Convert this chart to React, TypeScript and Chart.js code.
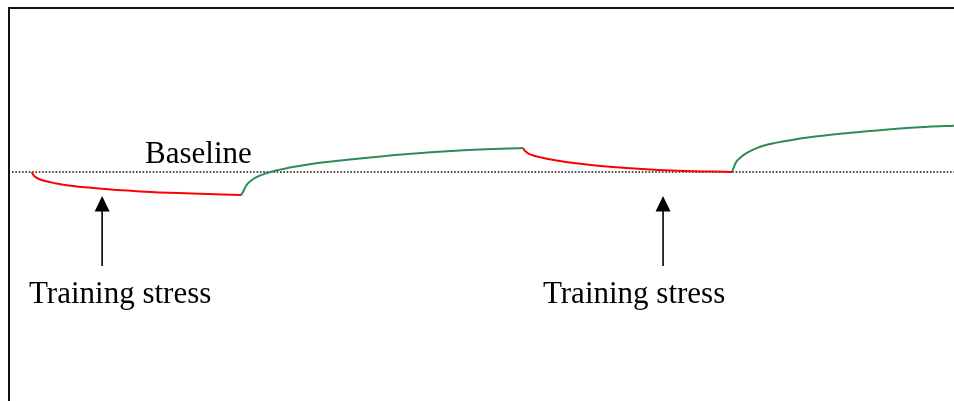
import React, { useEffect, useRef } from "react";
import { Chart, registerables } from "chart.js";

Chart.register(...registerables);

// Time axis in days, level relative to baseline (0)
const red1Days = [0, 0.06, 0.16, 0.35, 0.63, 1.11, 1.59, 2.54, 3.5, 5.4, 7.31, 10];
const red1Level = [0, -0.25, -0.47, -0.7, -0.9, -1.12, -1.3, -1.53, -1.7, -1.97, -2.13, -2.3];

const green1Days = [10, 10.13, 10.22, 10.46, 10.7, 11.18, 11.66, 12.61, 13.57, 15.42, 17.81, 20.2, 23.44];
const green1Level = [-2.3, -1.8, -1.4, -0.87, -0.53, -0.13, 0.15, 0.55, 0.87, 1.3, 1.78, 2.13, 2.4];

const red2Days = [23.44, 23.52, 23.68, 23.87, 24.16, 24.64, 25.11, 26.07, 27.02, 28.93, 30.84, 33.41];
const red2Level = [2.4, 2.13, 1.87, 1.7, 1.53, 1.3, 1.13, 0.85, 0.63, 0.33, 0.13, 0];

const green2Days = [33.41, 33.51, 33.6, 33.84, 34.08, 34.56, 35.03, 35.99, 36.94, 38.95, 40.85, 42.76, 44];
const green2Level = [0, 0.53, 0.97, 1.5, 1.87, 2.37, 2.7, 3.1, 3.43, 3.9, 4.25, 4.53, 4.63];

const baselineDays = [-0.94, 44];
const baselineLevel = [0, 0];

const stressDays = [3.36, 30.12];
const arrowTipLevel = -2.4;
const arrowTailLevel = -9.4;

const labelTexts = ["Baseline", "Training stress", "Training stress"];
const labelDays = [5.41, -0.13, 24.39];
const labelLevels = [0.9, -13.1, -13.1];

const X_MIN = -1.083;
const X_MAX = 44;
const Y_MIN = -22.9;
const Y_MAX = 16.4;

const RED = "#ff0000";
const GREEN = "#2e8b57";

const zip = (xs: number[], ys: number[]) => xs.map((x, i) => ({ x, y: ys[i] }));

const overlayPlugin = {
  id: "overlay",
  afterDatasetsDraw(chart: any) {
    const { ctx, chartArea, scales } = chart;
    const xs = scales.x;
    const ys = scales.y;
    ctx.save();
    // frame (left and top)
    ctx.strokeStyle = "#111";
    ctx.lineWidth = 2;
    ctx.beginPath();
    ctx.moveTo(chartArea.left, chartArea.bottom + 2);
    ctx.lineTo(chartArea.left, chartArea.top);
    ctx.lineTo(chartArea.right + 2, chartArea.top);
    ctx.stroke();

    // arrows
    ctx.strokeStyle = "#000";
    ctx.fillStyle = "#000";
    ctx.lineWidth = 1.6;
    const headLen = 15.5;
    const headHalf = 7.5;
    stressDays.forEach((d) => {
      const x = xs.getPixelForValue(d);
      const tip = ys.getPixelForValue(arrowTipLevel);
      const tail = ys.getPixelForValue(arrowTailLevel);
      ctx.beginPath();
      ctx.moveTo(x, tail);
      ctx.lineTo(x, tip + headLen - 1);
      ctx.stroke();
      ctx.beginPath();
      ctx.moveTo(x, tip);
      ctx.lineTo(x - headHalf, tip + headLen);
      ctx.lineTo(x + headHalf, tip + headLen);
      ctx.closePath();
      ctx.fill();
    });

    // labels
    ctx.font = '31px "Liberation Serif", "Times New Roman", serif';
    ctx.textAlign = "left";
    ctx.textBaseline = "alphabetic";
    ctx.fillStyle = "#000";
    labelTexts.forEach((t, i) => {
      ctx.fillText(t, xs.getPixelForValue(labelDays[i]), ys.getPixelForValue(labelLevels[i]));
    });
    ctx.restore();
  },
};

export default function App() {
  const ref = useRef<HTMLCanvasElement | null>(null);

  useEffect(() => {
    document.body.style.margin = "0";
    const canvas = ref.current;
    if (!canvas) return;
    const curve = (data: any, color: string) => ({
      data,
      borderColor: color,
      borderWidth: 2,
      pointRadius: 0,
      fill: false,
      cubicInterpolationMode: "monotone" as const,
    });
    const chart = new Chart(canvas, {
      type: "line",
      data: {
        datasets: [
          curve(zip(red1Days, red1Level), RED),
          curve(zip(green1Days, green1Level), GREEN),
          curve(zip(red2Days, red2Level), RED),
          curve(zip(green2Days, green2Level), GREEN),
          {
            data: zip(baselineDays, baselineLevel),
            borderColor: "#111",
            borderWidth: 1.5,
            borderDash: [1.6, 1.75],
            pointRadius: 0,
            fill: false,
          },
        ],
      },
      options: {
        animation: false,
        responsive: false,
        maintainAspectRatio: false,
        parsing: false as any,
        clip: false as any,
        layout: { padding: { left: 9, top: 8, right: 0, bottom: 0 } },
        plugins: { legend: { display: false }, tooltip: { enabled: false } },
        scales: {
          x: { type: "linear", min: X_MIN, max: X_MAX, display: false },
          y: { type: "linear", min: Y_MIN, max: Y_MAX, display: false },
        },
      },
      plugins: [overlayPlugin],
    });
    return () => chart.destroy();
  }, []);

  return (
    <div style={{ width: 954, height: 401, position: "relative", background: "#fff" }}>
      <canvas ref={ref} width={954} height={401} style={{ width: 954, height: 401, display: "block" }} />
    </div>
  );
}
